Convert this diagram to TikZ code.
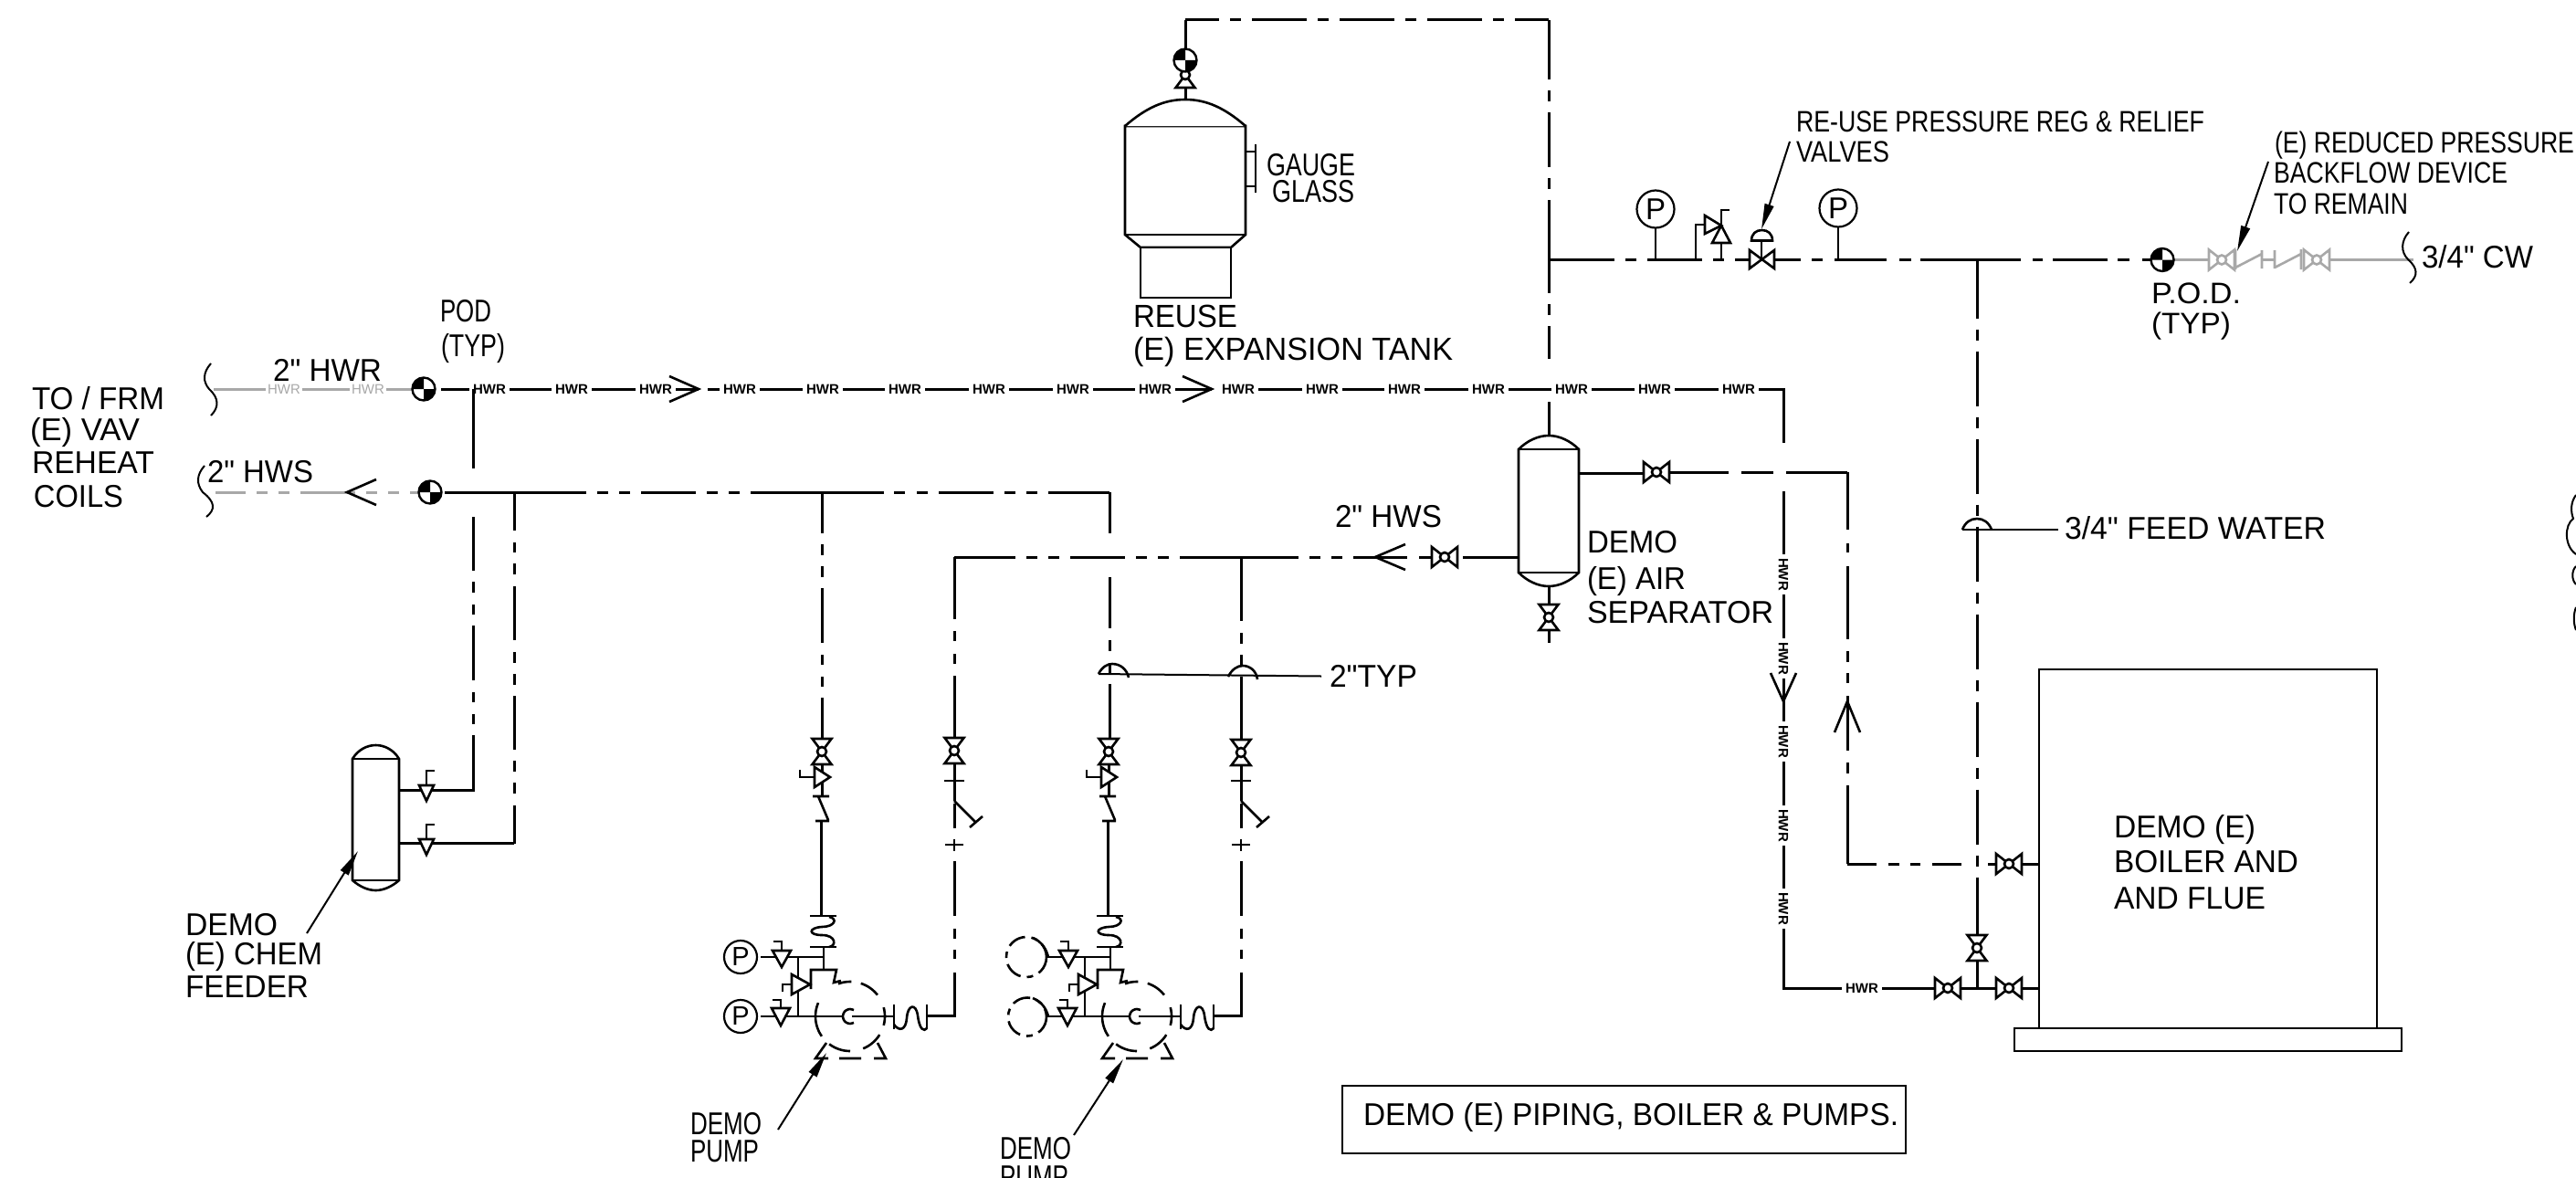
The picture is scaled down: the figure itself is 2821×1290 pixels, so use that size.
\documentclass[tikz,border=0pt]{standalone}
\usepackage{fontspec}
\setmainfont{Liberation Sans}[Ligatures=TeXOff]
\usepackage{graphicx}
\usetikzlibrary{arrows.meta}
\newcommand\fw[2]{\resizebox{#1pt}{\height}{#2}}
\newcommand\sz[1]{\fontsize{#1}{#1}\selectfont}
\definecolor{gr}{HTML}{A8A8A8}
\tikzset{
  lbl/.style={anchor=base west,inner sep=0pt,outer sep=0pt,font=\sz{34.5}},
  lbs/.style={lbl,font=\sz{32.5}},
  pipe/.style={line width=3pt,line cap=butt,line join=miter},
  gpipe/.style={pipe,draw=gr},
  sym/.style={line width=2.6pt,line join=miter,fill=white,draw=black},
  thinp/.style={line width=2.6pt,line join=miter},
  leader/.style={line width=2pt},
  arr/.style={line width=2pt,-{Stealth[length=28pt,width=10pt,inset=0pt]}},
  center/.style={dash pattern=on 60pt off 12pt on 12pt off 12pt},
  hwr/.style={fill=white,inner sep=0pt,minimum width=44pt,minimum height=12pt,font=\sz{15}\bfseries},
  hwrg/.style={fill=white,text=gr,inner sep=0pt,minimum width=40pt,minimum height=12pt,font=\sz{15}},
  gauge/.style={draw,circle,fill=white,inner sep=0pt,minimum size=36pt,line width=2.2pt,font=\sz{29}},
  gaugeb/.style={gauge,minimum size=41pt,font=\sz{33}},
  pics/vH/.style={code={
    \draw[sym] (-14,-11)--(-14,11)--(14,-11)--(14,11)--cycle;
    \draw[sym] (0,0) circle (5);}},
  pics/vV/.style={code={
    \draw[sym] (-10.5,-14)--(10.5,-14)--(-10.5,14)--(10.5,14)--cycle;
    \draw[sym] (0,0) circle (5);}},
  pics/vHg/.style={code={
    \draw[sym,draw=gr] (-14,-11)--(-14,11)--(14,-11)--(14,11)--cycle;
    \draw[sym,draw=gr] (0,0) circle (5);}},
  pics/podm/.style={code={
    \draw[line width=2.4pt,fill=white] (0,0) circle (12.5);
    \fill (0,0)--(-12.5,0) .. controls (-12.5,-7) and (-7,-12.5) .. (0,-12.5)--cycle;
    \fill (0,0)--(12.5,0) .. controls (12.5,7) and (7,12.5) .. (0,12.5)--cycle;}},
}
\newcommand\carc[2]{\draw[thinp] plot[smooth,samples=9,domain=#1:#2] ({931+38*cos(\x)},{1113-38*sin(\x)});}
\newcommand\pumpset{%
  % isolating valve, balancing valve, check valve
  \draw[pipe] (900,837)--(900,872);
  \draw[sym] (892,840)--(892,862)--(909,851)--cycle;
  \draw[thinp] (892,851)--(876,851)--(876,843);
  \draw[thinp] (890,872)--(908,872) (896,872)--(907,898) (893,899)--(908,899);
  \draw[pipe] (899,899)--(899,1003);
  \draw[thinp] (887,1003)--(916,1003) (887,1037)--(916,1037);
  \draw[thinp] (908,1004) .. controls (918,1006) and (914,1015) .. (900,1015) .. controls (885,1016) and (885,1024) .. (900,1024) .. controls (916,1024) and (916,1036) .. (908,1037);
  \draw[thinp] (902,1037)--(902,1062);
  \draw[thinp] (888,1083)--(888,1062)--(916,1062)--(913,1076)--(921,1074);
  \draw[thinp] (833,1048)--(902,1048) (833,1113)--(923,1113) (874,1048)--(874,1113);
  \draw[sym] (846,1041)--(866,1041)--(856,1059)--cycle;
  \draw[thinp] (856,1041)--(856,1031)--(847,1031);
  \draw[sym] (845,1104)--(865,1104)--(855,1123)--cycle;
  \draw[thinp] (855,1104)--(855,1095)--(846,1095);
  \draw[sym] (867,1067)--(867,1089)--(887,1078)--cycle;
  \draw[thinp] (867,1078)--(857,1078)--(857,1086);
  % casing
  \carc{88}{110}\carc{38}{72}\carc{-15}{15}\carc{-68}{-32}\carc{-127}{-90}\carc{157}{215}
  \draw[thinp] plot[smooth,samples=9,domain=60:300] ({931+8*cos(\x)},{1113-8*sin(\x)});
  \draw[thinp] (933,1113)--(979,1113);
  % suction flex
  \draw[thinp] (979,1100)--(979,1127) (1015,1100)--(1015,1127);
  \draw[thinp] (979,1122) .. controls (985,1130) and (992,1128) .. (993,1115) .. controls (994,1100) and (1003,1098) .. (1005,1112) .. controls (1007,1128) and (1012,1130) .. (1015,1126);
  % suction riser
  \draw[pipe] (1015,1112)--(1045,1112)--(1045,1065) (1045,1050)--(1045,1040) (1045,1028)--(1045,1017) (1045,1003)--(1045,943) (1045,907)--(1045,880) (1045,877)--(1045,836);
  \draw[thinp] (1035,925)--(1055,925) (1045,919)--(1045,932) (1034,855)--(1056,855);
  \draw[thinp] (1045,877)--(1068,900) (1062,906)--(1076,894);
  % feet
  \draw[thinp] (905,1142)--(893,1159)--(907,1159) (919,1159)--(943,1159) (957,1159)--(970,1159)--(961,1142);
}
\begin{document}
\begin{tikzpicture}[x=1pt,y=-1pt]
\useasboundingbox (0,0) rectangle (2821,1290);
\fill[white] (0,0) rectangle (2821,1290);

% ---- named junctions
\coordinate (hwrL) at (483,426);
\coordinate (hwrR) at (1953,426);
\coordinate (hwrB) at (1953,1082);
\coordinate (hwsL) at (487,539);
\coordinate (hwsR) at (1215,539);
\coordinate (tankTop) at (1298,109);
\coordinate (topL) at (1298,22);
\coordinate (topR) at (1696,22);
\coordinate (sepTop) at (1696,477);
\coordinate (cwL) at (1696,284.5);
\coordinate (cwR) at (2359,284.5);
\coordinate (fwT) at (2165,284.5);
\coordinate (fwB) at (2165,1082);
\coordinate (blrB) at (2233,1082);
\coordinate (blrA) at (2233,946);
\coordinate (retC) at (2023,517);
\coordinate (retD) at (2023,946);

% ---- tank, separators, feeder, boiler
\draw[sym] (1232,138)--(1232,257)--(1249,271)--(1348,271)--(1364,257)--(1364,138)--cycle;
\draw[sym] (1232,138) .. controls (1255,118) and (1275,109) .. (1298,109) .. controls (1321,109) and (1341,118) .. (1364,138);
\draw[thinp] (1232,257)--(1364,257);
\draw[sym] (1249,271) rectangle (1348,326);
\draw[thinp] (1364,166)--(1375,166) (1364,204)--(1375,204) (1375,158)--(1375,211);

\draw[sym] (1663,492)--(1663,627) .. controls (1672,636) and (1684,642) .. (1696,642) .. controls (1708,642) and (1720,636) .. (1729,627)--(1729,492) .. controls (1720,483) and (1708,477) .. (1696,477) .. controls (1684,477) and (1672,483) .. (1663,492)--cycle;
\draw[thinp] (1663,492)--(1729,492) (1663,627)--(1729,627);

\draw[sym] (386,831)--(386,964) .. controls (394,971) and (403,975) .. (411.5,975) .. controls (420,975) and (429,971) .. (437,964)--(437,831) .. controls (431,821) and (421,816) .. (411.5,816) .. controls (402,816) and (392,821) .. (386,831)--cycle;
\draw[thinp] (386,831)--(437,831) (386,964)--(437,964);

\draw[sym] (2233,733) rectangle (2603,1126);
\draw[sym] (2206,1126) rectangle (2630,1151);

% ---- pipes
\draw[pipe] (hwrL)--(765,426) (775,426)--(1327,426) (1337,426)--(hwrR)--(1953,485);
\draw[pipe] (1953,538)--(hwrB)--(blrB);
\draw[gpipe] (234,426)--(452,426);
\draw[gpipe,dash pattern=on 33pt off 12pt on 12pt off 12pt on 12pt off 12pt on 60pt off 12pt on 12pt off 12pt on 12pt off 12pt on 9pt] (236,539)--(458,539);
\draw[pipe,dash pattern=on 155pt off 12pt on 12pt off 12pt on 12pt off 12pt on 60pt off 12pt on 12pt off 12pt on 12pt off 12pt on 146pt off 11pt on 12pt off 13pt on 12pt off 12pt on 60pt off 12pt on 12pt off 12pt on 12pt off 12pt on 80pt] (hwsL)--(hwsR);
\draw[pipe] (hwsR)--(1215,584) (1215,632)--(1215,688) (1215,701)--(1215,713) (1215,726)--(1215,737) (1215,749)--(1215,810);
\draw[pipe,dash pattern=on 67pt off 12pt on 12pt off 12pt on 12pt off 12pt on 60pt off 12pt on 12pt off 12pt on 12pt off 12pt on 130pt off 12pt on 12pt off 12pt on 12pt off 12pt on 59pt off 13pt on 14pt] (1045,610)--(1568,610);
\draw[pipe] (1602,610)--(1663,610);
% chem-feed drops
\draw[pipe] (518,426)--(518,513);
\draw[pipe] (518,566)--(518,625) (518,637)--(518,649) (518,662)--(518,673) (518,685)--(518,745) (518,758)--(518,769) (518,782)--(518,793) (518,805)--(518,865)--(437,865);
\draw[pipe,dash pattern=on 42pt off 13pt on 11pt off 12pt on 12pt off 13pt on 59pt off 13pt on 12pt off 12pt on 12pt off 12pt on 59pt off 12pt on 12pt off 12pt on 12pt off 13pt on 80pt] (563,539)--(563,923.5);
\draw[pipe] (563,923.5)--(437,923.5);
% pump risers
\draw[pipe,dash pattern=on 45pt off 12pt on 12pt off 12pt on 12pt off 12pt on 60pt off 13pt on 11pt off 13pt on 11pt off 12pt on 60pt] (900,539)--(900,810);
\draw[pipe] (1045,610)--(1045,678) (1045,691)--(1045,702) (1045,716)--(1045,727) (1045,740)--(1045,810);
\draw[pipe] (1359,610)--(1359,680) (1359,693)--(1359,705) (1359,717)--(1359,728) (1359,741)--(1359,812);
% expansion / cold water
\draw[pipe] (tankTop)--(topL);
\draw[pipe,center,dash phase=23pt] (topL)--(topR);
\draw[pipe,dash pattern=on 65pt off 12pt on 12pt off 12pt on 60pt off 12pt on 12pt off 12pt on 102pt off 12pt on 12pt off 12pt on 36pt] (topR)--(1696,393);
\draw[pipe] (1696,440)--(sepTop);
\draw[pipe,dash pattern=on 72pt off 12pt on 12pt off 12pt on 60pt off 12pt on 12pt off 12pt on 72pt off 12pt on 12pt off 13pt on 57pt off 14pt on 13pt off 10pt on 110pt off 13pt on 11pt off 11pt on 60pt off 11pt on 13pt off 14pt on 25pt] (cwL)--(cwR);
\draw[pipe,dash pattern=on 64pt off 12pt on 12pt off 12pt on 60pt off 12pt on 12pt off 12pt on 60pt off 12pt on 12pt off 12pt on 60pt off 12pt on 12pt off 12pt on 60pt off 12pt on 12pt off 12pt on 60pt off 12pt on 12pt off 12pt on 60pt off 12pt on 12pt off 12pt on 62pt off 29pt on 40pt] (fwT)--(fwB);
% air separator branches
\draw[pipe] (1729,518)--(1800,518);
\draw[pipe,dash pattern=on 65pt off 14pt on 35pt off 14pt on 80pt] (1828,517)--(retC);
\draw[pipe,dash pattern=on 63pt off 15pt on 10pt off 15pt on 80pt off 13pt on 12pt off 12pt on 11pt off 14pt on 60pt off 13pt on 12pt off 13pt on 120pt] (retC)--(retD);
\draw[pipe,dash pattern=on 32pt off 13pt on 12pt off 12pt on 11pt off 13pt on 32pt off 29pt on 40pt] (retD)--(2214,946);
\draw[pipe] (2210,946)--(blrA);
\draw[pipe] (1696,642)--(1696,704);
% gray backflow run
\draw[gpipe] (2381,284.5)--(2419,284.5) (2477,284.5)--(2491,284.5) (2551,284.5)--(2643,284.5);
\draw[thinp,draw=gr] (2448,273)--(2448,295) (2448,293)--(2477,278) (2477,274)--(2477,294) (2491,274)--(2491,294) (2491,293)--(2520,278) (2520,273)--(2520,295);
% stems to gauges
\draw[thinp] (1813,249)--(1813,284) (2013,248)--(2013,284);

% ---- HWR text on pipes
\foreach \n/\x in {a/536,b/626,c/718,d/810,e/901,f/991,g/1083,h/1175,i/1265,j/1356,k/1448,l/1538,m/1630,n/1721,o/1812,p/1904}{
  \node[hwr] (hw\n) at (\x,426) {HWR};}
\foreach \n/\y in {a/629,b/721,c/812,d/904,e/995}{
  \node[hwr,rotate=-90] (hv\n) at (1953,\y) {HWR};}
\node[hwr] (hwbot) at (2039,1082) {HWR};
\node[hwrg] (hga) at (311,426) {HWR};
\node[hwrg] (hgb) at (403,426) {HWR};
\draw[pipe] (518,426)--(518,450);

% ---- flow chevrons
\draw[thinp] (733,412)--(765,426)--(733,440);
\draw[thinp] (1295,412)--(1327,426)--(1295,440);
\draw[thinp] (412,525)--(380,539)--(412,553);
\draw[thinp] (1539,596)--(1506,610)--(1539,624);
\draw[thinp] (1939,737)--(1953,768)--(1967,737);
\draw[thinp] (2009,802)--(2023,768)--(2037,802);

% ---- points of disconnection
\pic at (464,426) {podm};
\pic at (471,539) {podm};
\pic at (1298,82) {vV};
\pic at (1298,66) {podm};
\pic at (2368,284.5) {podm};

% ---- valves
\pic at (1582,610) {vH};
\pic at (1814,517) {vH};
\pic at (1696,676) {vV};
\pic at (2200,946) {vH};
\pic at (2133,1082) {vH};
\pic at (2200,1082) {vH};
\pic at (2165,1038) {vV};
\pic at (2433,284.5) {vHg};
\pic at (2537,284.5) {vHg};
\draw[pipe] (2165,1082)--(2165,1052);

% ---- pumps (left set, right set)
\pic at (900,823) {vV};
\pic at (1045,822) {vV};
\pumpset
\begin{scope}[shift={(314,0)}]
  \pumpset
\end{scope}
\pic at (1214,823) {vV};
\pic at (1359,824) {vV};
\node[gauge] (pgA) at (811,1048) {P};
\node[gauge] (pgB) at (811,1113) {P};
\draw[thinp,dash pattern=on 20pt off 7pt on 7pt off 7pt] (1124,1048) circle (22);
\draw[thinp] (1131,1027) .. controls (1141,1031) and (1146,1040) .. (1148,1048);
\draw[thinp,dash pattern=on 20pt off 7pt on 7pt off 7pt] (1125,1113.5) circle (21);
\draw[thinp] (1131,1093) .. controls (1141,1097) and (1146,1105) .. (1148,1113);

% ---- chem feeder cocks
\draw[sym] (459,860)--(475,860)--(467,877)--cycle;
\draw[thinp] (467,860)--(467,844)--(476,844);
\draw[sym] (459,919)--(475,919)--(467,936)--cycle;
\draw[thinp] (467,919)--(467,903)--(476,903);

% ---- gauges, relief, PRV on cold water
\node[gaugeb] (pgC) at (1813,229) {P};
\node[gaugeb] (pgD) at (2013,228) {P};
\draw[thinp] (1857,284)--(1857,246)--(1867,246);
\draw[sym] (1867,236)--(1867,256)--(1885,247)--cycle;
\draw[sym] (1885,247)--(1875,266)--(1895,266)--cycle;
\draw[thinp] (1885,266)--(1885,284) (1885,247)--(1885,230)--(1894,230);
\draw[thinp,fill=white] (1916,274)--(1916,294)--(1943,274)--(1943,294)--cycle;
\draw[thinp] (1929,263)--(1929,284);
\draw[thinp,fill=white] (1918,263.5) .. controls (1918,256) and (1923,252) .. (1929.5,252) .. controls (1936,252) and (1941,256) .. (1941,263.5)--cycle;

% ---- test domes and leaders
\draw[thinp] (1203,738) .. controls (1207,730) and (1213,727) .. (1218,727) .. controls (1227,727) and (1234,733) .. (1236,742);
\draw[thinp] (1345,741) .. controls (1349,733) and (1355,729) .. (1361,729) .. controls (1369,729) and (1376,735) .. (1377,744);
\draw[leader] (1203,738)--(1447,740.5);
\draw[thinp] (2149,580) .. controls (2152,572) and (2158,568) .. (2165,568) .. controls (2172,568) and (2178,572) .. (2181,580);
\draw[leader] (2149,580)--(2254,580);

% ---- breaks
\draw[leader] (231,398) .. controls (222,408) and (222,418) .. (229,426) .. controls (240,436) and (240,446) .. (231,455);
\draw[leader] (224,510) .. controls (215,520) and (215,530) .. (222,539) .. controls (236,550) and (236,558) .. (226,566);
\draw[leader] (2638,254) .. controls (2629,264) and (2629,276) .. (2637,284) .. controls (2648,294) and (2648,302) .. (2639,310);
\draw[leader] (2821,542) .. controls (2815,550) and (2815,560) .. (2818,568) .. controls (2808,575) and (2808,598) .. (2821,607);
\draw[leader] (2821,620) .. controls (2816,625) and (2816,635) .. (2821,640);
\draw[leader] (2821,665) .. controls (2818,672) and (2818,683) .. (2821,690);

% ---- arrows
\coordinate (arA) at (1960,155); \coordinate (arAe) at (1929,251);
\coordinate (arB) at (2484,177); \coordinate (arBe) at (2450,275);
\coordinate (arC) at (336,1022); \coordinate (arCe) at (392,932);
\coordinate (arD) at (852,1237); \coordinate (arDe) at (905,1153);
\coordinate (arE) at (1176,1243); \coordinate (arEe) at (1230,1160);
\draw[arr] (arA)--(arAe);
\draw[arr] (arB)--(arBe);
\draw[arr] (arC)--(arCe);
\draw[arr] (arD)--(arDe);
\draw[arr] (arE)--(arEe);

% ---- texts
\node[lbl] (t01) at (35,448) {\fw{145}{TO / FRM}};
\node[lbl] (t02) at (33,482) {\fw{120}{(E) VAV}};
\node[lbl] (t03) at (35,518) {\fw{134}{REHEAT}};
\node[lbl] (t04) at (37,555) {\fw{98}{COILS}};
\node[lbl] (t05) at (299,417) {\fw{119}{2" HWR}};
\node[lbl] (t06) at (227,528) {\fw{116}{2" HWS}};
\node[lbl] (t07) at (482,352) {\fw{56}{POD}};
\node[lbl] (t08) at (483,390) {\fw{70}{(TYP)}};
\node[lbl] (t09) at (1387,192) {\fw{97}{GAUGE}};
\node[lbl] (t10) at (1393,221) {\fw{90}{GLASS}};
\node[lbl,font=\sz{35}] (t11) at (1241,358) {\fw{114}{REUSE}};
\node[lbl,font=\sz{35}] (t12) at (1241,394) {\fw{350}{(E) EXPANSION TANK}};
\node[lbs] (t13) at (1967,144) {\fw{447}{RE-USE PRESSURE REG \& RELIEF}};
\node[lbs] (t14) at (1967,177) {\fw{102}{VALVES}};
\node[lbs] (t15) at (2491,167) {\fw{328}{(E) REDUCED PRESSURE}};
\node[lbs] (t16) at (2490,200) {\fw{256}{BACKFLOW DEVICE}};
\node[lbs] (t17) at (2490,234) {\fw{147}{TO REMAIN}};
\node[lbs] (t18) at (2356,332) {\fw{98}{P.O.D.}};
\node[lbs] (t19) at (2356,365) {\fw{87}{(TYP)}};
\node[lbl] (t20) at (2652,293) {\fw{122}{3/4" CW}};
\node[lbl] (t21) at (2261,590) {\fw{286}{3/4" FEED WATER}};
\node[lbl] (t22) at (1456,752) {\fw{96}{2"TYP}};
\node[lbl] (t23) at (1462,577) {\fw{117}{2" HWS}};
\node[lbl] (t24) at (1738,605) {\fw{99}{DEMO}};
\node[lbl] (t25) at (1738,645) {\fw{108}{(E) AIR}};
\node[lbl] (t26) at (1738,682) {\fw{204}{SEPARATOR}};
\node[lbl] (t27) at (203,1024) {\fw{101}{DEMO}};
\node[lbl] (t28) at (203,1056) {\fw{150}{(E) CHEM}};
\node[lbl] (t29) at (203,1092) {\fw{135}{FEEDER}};
\node[lbl] (t30) at (756,1242) {\fw{78}{DEMO}};
\node[lbl] (t31) at (756,1272) {\fw{75}{PUMP}};
\node[lbl] (t32) at (1095,1269) {\fw{78}{DEMO}};
\node[lbl] (t33) at (1095,1300) {\fw{75}{PUMP}};
\node[lbl] (t34) at (2315,917) {\fw{155}{DEMO (E)}};
\node[lbl] (t35) at (2315,955) {\fw{202}{BOILER AND}};
\node[lbl] (t36) at (2315,995) {\fw{166}{AND FLUE}};
\node[lbl] (t37) at (1493,1232) {\fw{586}{DEMO (E) PIPING, BOILER \& PUMPS.}};
\draw[thinp] (1470,1189) rectangle (2087,1263);
\end{tikzpicture}
\end{document}
